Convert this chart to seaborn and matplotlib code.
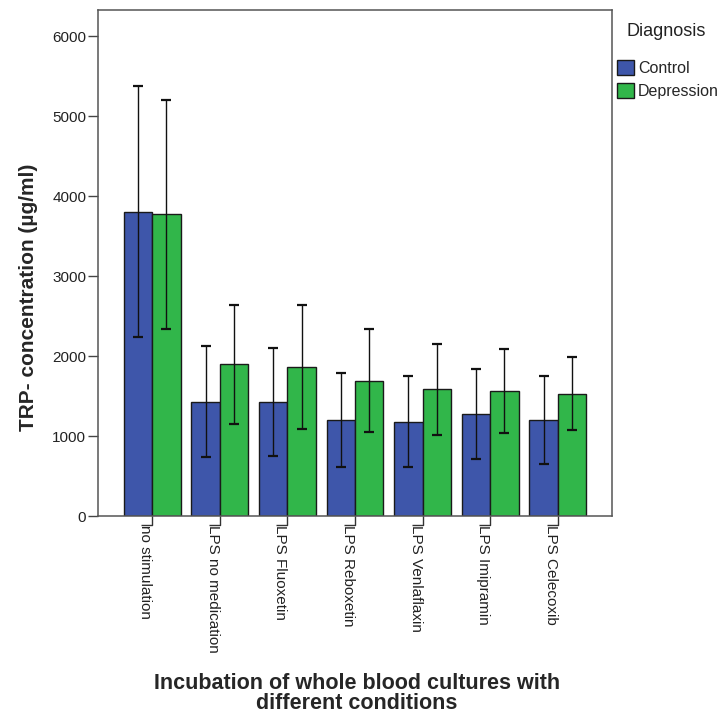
import numpy as np
import pandas as pd
import matplotlib
matplotlib.use("Agg")
import matplotlib.pyplot as plt
from matplotlib.path import Path
import seaborn as sns

conditions = ["no stimulation", "LPS no medication", "LPS Fluoxetin", "LPS Reboxetin",
              "LPS Venlaflaxin", "LPS Imipramin", "LPS Celecoxib"]
groups = ["Control", "Depression"]
control_mean = [3805, 1430, 1425, 1200, 1180, 1275, 1200]
control_err = [1570, 695, 680, 590, 570, 565, 545]
depression_mean = [3770, 1895, 1865, 1690, 1585, 1560, 1530]
depression_err = [1430, 745, 775, 645, 570, 525, 455]
y_ticks = [0, 1000, 2000, 3000, 4000, 5000, 6000]

colors = {"Control": "#3E56AA", "Depression": "#31B64A"}

df = pd.DataFrame({
    "condition": conditions * 2,
    "Diagnosis": ["Control"] * len(conditions) + ["Depression"] * len(conditions),
    "value": control_mean + depression_mean,
    "err": control_err + depression_err,
})

sns.set_style("white")
plt.rcParams["font.family"] = ["Liberation Sans", "DejaVu Sans"]

W, H = 720, 716
fig = plt.figure(figsize=(W / 100, H / 100), dpi=100)
ax = fig.add_axes([98 / W, 1 - 516 / H, 514 / W, 506 / H])

sns.barplot(data=df, x="condition", y="value", hue="Diagnosis", order=conditions,
            hue_order=groups, palette=colors, width=0.84, errorbar=None,
            edgecolor="#1a1a1a", linewidth=1.0, saturation=1, legend=False, ax=ax)

# error bars at the centre of each bar
for gi, g in enumerate(groups):
    sub = df[df["Diagnosis"] == g].set_index("condition").loc[conditions]
    cont = ax.containers[gi]
    xs = [p.get_x() + p.get_width() / 2 for p in cont.patches]
    ax.errorbar(xs, sub["value"].values, yerr=sub["err"].values, fmt="none",
                ecolor="#111111", elinewidth=1.0, capsize=3.5, capthick=1.6, zorder=5)

ax.set_xlim(-0.8, 6.8)
ax.set_ylim(0, 6325)
ax.set_yticks(y_ticks)
ax.set_yticklabels([str(v) for v in y_ticks], fontsize=11, color="#222222")
ax.tick_params(axis="y", direction="out", length=7, width=1, color="#444444",
               left=True, pad=1.5)

# category ticks drawn as small hooks below the axis
hook = Path([(0, 0), (0, -0.8), (-1.0, -0.8)],
            [Path.MOVETO, Path.LINETO, Path.LINETO])
ax.plot(range(len(conditions)), [0] * len(conditions), linestyle="none",
        marker=hook, markersize=16, markerfacecolor="none", markeredgecolor="#333333",
        markeredgewidth=1.0, clip_on=False, zorder=6)
ax.set_xticks(range(len(conditions)))
ax.set_xticklabels(conditions, rotation=270, fontsize=11, va="top", ha="right",
                   color="#222222")
ax.tick_params(axis="x", length=0, bottom=True, pad=6.5)

for s in ax.spines.values():
    s.set_color("#555555")
    s.set_linewidth(1.1)
    s.set_visible(True)

ax.set_ylabel("TRP- concentration (µg/ml)", fontsize=15, fontweight="bold")
ax.yaxis.set_label_coords(-0.117, 0.433)
ax.set_xlabel("")
fig.text(357 / W, 1 - 689 / H, "Incubation of whole blood cultures with",
         ha="center", va="baseline", fontsize=15.5, fontweight="bold")
fig.text(357 / W, 1 - 709 / H, "different conditions",
         ha="center", va="baseline", fontsize=15.5, fontweight="bold")

# legend outside the frame
fig.text(627 / W, 1 - 31 / H, "Diagnosis", ha="left", va="center", fontsize=13,
         color="#222222")
handles = [plt.Rectangle((0, 0), 1, 1, facecolor=colors[g], edgecolor="#1a1a1a",
                         linewidth=1.0) for g in groups]
fig.legend(handles, groups, loc="upper left", bbox_to_anchor=(617 / W, 1 - 60 / H),
           bbox_transform=fig.transFigure, frameon=False, fontsize=11.5,
           handlelength=1.05, handleheight=1.05, handletextpad=0.25,
           borderpad=0.0, borderaxespad=0.0, labelspacing=0.45)

fig.savefig("out.png", dpi=100)
